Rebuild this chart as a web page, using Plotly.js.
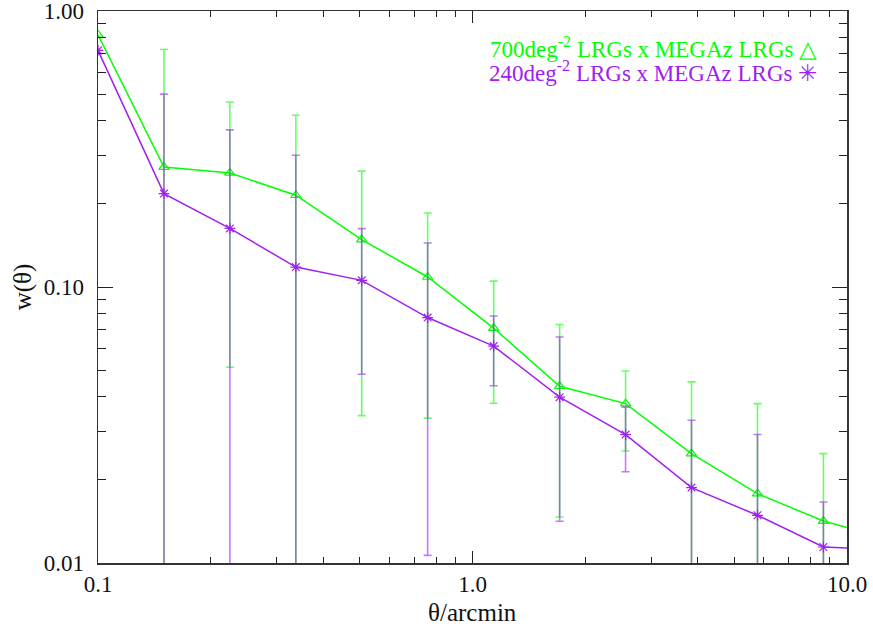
<!DOCTYPE html>
<html><head><meta charset="utf-8">
<script src="https://cdn.plot.ly/plotly-3.0.1.min.js"></script>
<style>html,body{margin:0;padding:0;background:#fff}</style>
</head><body><div id="chart" style="width:873px;height:626px"></div>
<script>
// theta bins (arcmin); last bin lies beyond the plotted range (line runs off the right edge)
const theta = [0.1, 0.15, 0.225, 0.3375, 0.506, 0.759, 1.139, 1.709, 2.563, 3.844, 5.767, 8.65, 12.97];
// 700 deg^-2 LRGs x MEGAz LRGs
const w700 = [0.82, 0.272, 0.259, 0.215, 0.1485, 0.1087, 0.071, 0.0437, 0.0378, 0.0249, 0.01784, 0.01419, 0.0122];
const w700Upper = [null, 0.725, 0.468, 0.419, 0.263, 0.1854, 0.105, 0.0731, 0.0496, 0.0453, 0.0378, 0.0249, null];
const w700Lower = [null, -0.01, 0.0512, -0.01, 0.0342, 0.0335, 0.0379, 0.01468, 0.02546, -0.01, -0.01, -0.01, null];
// 240 deg^-2 LRGs x MEGAz LRGs
const w240 = [0.72, 0.218, 0.163, 0.1181, 0.1057, 0.0775, 0.0611, 0.0399, 0.0292, 0.01876, 0.01489, 0.01143, 0.01117];
const w240Upper = [null, 0.500, 0.371, 0.300, 0.1627, 0.1443, 0.0785, 0.0659, 0.0367, 0.0329, 0.0292, 0.01664, null];
const w240Lower = [null, -0.01, -0.01, -0.01, 0.0483, 0.01066, 0.0439, 0.01417, 0.0214, -0.01, -0.01, -0.01, null];

const xTickVals = [0.1, 1.000001, 10];
const xTickText = ['0.1', '1.0', '10.0'];
const yTickVals = [0.01, 0.1, 0.999999];
const yTickText = ['0.01', '0.10', '1.00'];
const xMinorVals = [0.2,0.3,0.4,0.5,0.6,0.7,0.8,0.9,2,3,4,5,6,7,8,9];
const yMinorVals = [0.02,0.03,0.04,0.05,0.06,0.07,0.08,0.09,0.2,0.3,0.4,0.5,0.6,0.7,0.8,0.9];

const GREEN = '#00ff00';
const PURPLE = '#a020f0';
const GREEN_ERR = 'rgba(0,255,0,0.6)';
const PURPLE_ERR = 'rgba(160,32,240,0.6)';
const FONT = 'Liberation Serif, serif';

function plus(y, up) { return y.map((v, i) => up[i] === null ? NaN : up[i] - v); }
function minus(y, lo) { return y.map((v, i) => lo[i] === null ? NaN : v - lo[i]); }

const traces = [
  {
    x: theta, y: w700, type: 'scatter', mode: 'lines+markers',
    line: {color: GREEN, width: 1.5},
    marker: {symbol: 'triangle-up-open', size: 9, color: GREEN, line: {width: 1.2, color: GREEN}},
    error_y: {type: 'data', symmetric: false, array: plus(w700, w700Upper), arrayminus: minus(w700, w700Lower),
              color: GREEN_ERR, thickness: 1.6, width: 4},
    showlegend: false
  },
  {
    x: theta, y: w240, type: 'scatter', mode: 'lines+markers',
    line: {color: PURPLE, width: 1.5},
    marker: {symbol: 'asterisk-open', size: 9, color: PURPLE, line: {width: 1.2, color: PURPLE}},
    error_y: {type: 'data', symmetric: false, array: plus(w240, w240Upper), arrayminus: minus(w240, w240Lower),
              color: PURPLE_ERR, thickness: 1.6, width: 4},
    showlegend: false
  },
  // empty trace that only carries the overlay axes used for the minor ticks
  {x: [], y: [], xaxis: 'x2', yaxis: 'y2', type: 'scatter', mode: 'markers', showlegend: false, hoverinfo: 'skip'}
];

const axisCommon = {
  type: 'log', showgrid: false, zeroline: false, showline: true, linecolor: '#333', linewidth: 1.5,
  mirror: 'ticks', ticks: 'inside', tickcolor: '#222', tickwidth: 1, ticklabeloverflow: 'allow',
  tickmode: 'array', tickfont: {family: FONT, size: 23, color: '#111'}
};
const minorCommon = {
  type: 'log', showgrid: false, zeroline: false, showline: false, showticklabels: false,
  mirror: 'ticks', ticks: 'inside', tickcolor: '#222', tickwidth: 1, tickmode: 'array'
};

const layout = {
  width: 873, height: 626,
  margin: {l: 98, r: 26, t: 11, b: 63},
  paper_bgcolor: '#fff', plot_bgcolor: '#fff',
  font: {family: FONT, color: '#111'},
  xaxis: Object.assign({}, axisCommon, {
    range: [-1, 1], tickvals: xTickVals, ticktext: xTickText, ticklen: 12, ticklabelstandoff: 0
  }),
  yaxis: Object.assign({}, axisCommon, {
    range: [-2, 0], tickvals: yTickVals, ticktext: yTickText, ticklen: 15, ticklabelstandoff: 8,
    title: {text: 'w(θ)', font: {family: FONT, size: 25, color: '#111'}, standoff: 5}
  }),
  xaxis2: Object.assign({}, minorCommon, {
    range: [-1, 1], overlaying: 'x', anchor: 'y2', side: 'bottom', tickvals: xMinorVals, ticklen: 6
  }),
  yaxis2: Object.assign({}, minorCommon, {
    range: [-2, 0], overlaying: 'y', anchor: 'x2', side: 'left', tickvals: yMinorVals, ticklen: 8
  }),
  annotations: [
    {xref: 'paper', yref: 'paper', x: 0.5, y: -0.0888, xanchor: 'center', yanchor: 'middle', showarrow: false,
     text: 'θ/arcmin', font: {family: FONT, size: 25, color: '#111'}},
    {xref: 'paper', yref: 'paper', x: 0.9626, y: 0.933, xanchor: 'right', yanchor: 'middle', showarrow: false,
     text: '700deg<sup>-2</sup> LRGs x MEGAz LRGs △', font: {family: FONT, size: 23, color: GREEN}},
    {xref: 'paper', yref: 'paper', x: 0.9626, y: 0.8895, xanchor: 'right', yanchor: 'middle', showarrow: false,
     text: '240deg<sup>-2</sup> LRGs x MEGAz LRGs ✳', font: {family: FONT, size: 23, color: PURPLE}}
  ]
};

Plotly.newPlot('chart', traces, layout, {displayModeBar: false, staticPlot: true});
</script>
</body></html>
